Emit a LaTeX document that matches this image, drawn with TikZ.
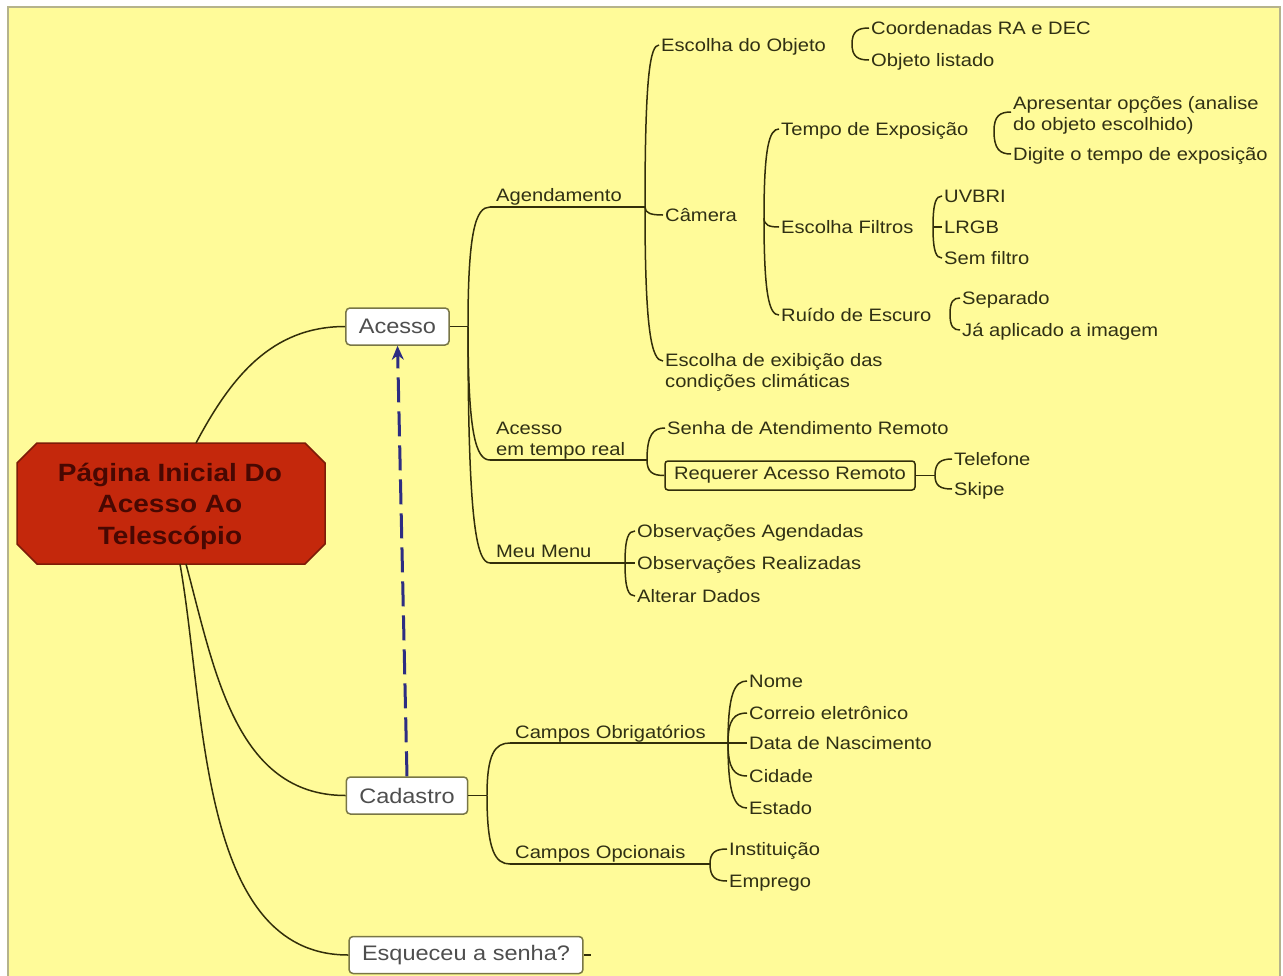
\documentclass[tikz,border=0pt]{standalone}
\usepackage{fontspec}
\setmainfont[FakeStretch=1.12]{Liberation Sans}
\usetikzlibrary{calc,arrows.meta}
\definecolor{bg}{HTML}{FFFB99}
\definecolor{frame}{HTML}{B5B38C}
\definecolor{lnc}{RGB}{50,46,10}
\definecolor{txt}{RGB}{48,48,20}
\definecolor{boxtxt}{RGB}{78,78,78}
\definecolor{boxbrd}{RGB}{120,118,70}
\definecolor{rootfill}{RGB}{196,40,12}
\definecolor{rootbrd}{RGB}{125,28,8}
\definecolor{roottxt}{RGB}{72,8,2}
\definecolor{navy}{RGB}{45,45,130}
\newcommand\mmfs{\fontsize{18pt}{21pt}\selectfont}
\newcommand\mmfsbox{\fontsize{21pt}{25pt}\selectfont}
\newcommand\mmfsroot{\fontsize{25pt}{31.5pt}\selectfont\bfseries}
\begin{document}
\begin{tikzpicture}[x=1pt,y=-1pt,
  ln/.style={draw=lnc, line width=1.5pt},
  br/.style={to path={.. controls ($(\tikztostart)!0.8!(\tikztostart|-\tikztotarget)$) and ($(\tikztotarget)!0.65!(\tikztostart|-\tikztotarget)$) .. (\tikztotarget) \tikztonodes}},
  leaf/.style={anchor=west, inner xsep=2pt, inner ysep=0pt, text height=13pt, text depth=0pt, font=\mmfs, text=txt},
  leafm/.style={anchor=north west, inner xsep=2pt, inner ysep=0pt, align=left, font=\mmfs, text=txt},
  ttl/.style={anchor=base west, inner sep=0pt, font=\mmfs, text=txt},
  mainbox/.style={draw=boxbrd, fill=white, line width=1.5pt, rounded corners=4pt, minimum height=37pt, inner xsep=13pt, inner ysep=0pt, font=\mmfsbox, text=boxtxt},
  rbox/.style={draw=lnc, line width=1.5pt, rounded corners=3pt, minimum width=250pt, minimum height=29pt, inner sep=0pt, font=\mmfs, text=txt},
  dasharrow/.style={draw=navy, line width=3pt, dash pattern=on 25pt off 9pt, -{Stealth[length=14pt,width=12pt]}}
]
\useasboundingbox (0,0) rectangle (1283,975);
\fill[white] (0,0) rectangle (1283,975);
\filldraw[fill=bg, draw=frame, line width=2pt] (8,7) rectangle (1280,995);

% root
\filldraw[fill=rootfill, draw=rootbrd, line width=1.5pt] (37,443) -- (305,443) -- (325,463) -- (325,544) -- (305,564) -- (37,564) -- (17,544) -- (17,463) -- cycle;
\node[align=center, font=\mmfsroot, text=roottxt, inner sep=0pt] (root) at (170,506) {Página Inicial Do\\Acesso Ao\\Telescópio};
\coordinate (rt) at (196,443);
\coordinate (rb1) at (186,564);
\coordinate (rb2) at (180,564);

% main boxes
\node[mainbox] (acesso) at (397.5,326.5) {Acesso};
\node[mainbox] (cadastro) at (407,795.5) {Cadastro};
\node[mainbox] (esq) at (466,955) {Esqueceu a senha?};
\coordinate (E1) at (591,955);

\draw[ln] (rt) to[out=62,in=180] (acesso.west);
\draw[ln] (rb1) to[out=-75,in=180] (cadastro.west);
\draw[ln] (rb2) to[out=-80,in=180,looseness=0.9] (esq.west);
\draw[ln] (esq.east) -- (E1);

% junctions
\coordinate (J1) at (468,326.5);
\coordinate (A1) at (490,207);
\coordinate (J2) at (645,207);
\coordinate (A2) at (490,460);
\coordinate (J8) at (647,460);
\coordinate (A3) at (490,563);
\coordinate (J10) at (625,563);
\coordinate (J3) at (852,44);
\coordinate (J4) at (764,218);
\coordinate (J5) at (994,131);
\coordinate (J6) at (933,227);
\coordinate (J7) at (950,314);
\coordinate (J9) at (935,475.5);
\coordinate (J11) at (487,795.5);
\coordinate (C1) at (510,743);
\coordinate (J12) at (728,743);
\coordinate (C2) at (510,864);
\coordinate (J13) at (710,864);

% titles with underline
\node[ttl] (agenda) at (496,201.5) {Agendamento};
\node[leafm, inner xsep=0pt] (tempreal) at (496,421.5) {Acesso\\em tempo real};
\node[ttl] (meumenu) at (496,557.5) {Meu Menu};
\node[ttl] (cobrig) at (515,738.5) {Campos Obrigatórios};
\node[ttl] (copc) at (515,858) {Campos Opcionais};

% leaves
\node[leaf] (escobj) at (659,45) {Escolha do Objeto};
\node[leaf] (camera) at (663,215) {Câmera};
\node[leafm] (clima) at (663,353.5) {Escolha de exibição das\\condições climáticas};
\coordinate (climah) at (663,361);
\node[leaf] (coord) at (869,28) {Coordenadas RA e DEC};
\node[leaf] (objlist) at (869,60) {Objeto listado};
\node[leaf] (tempo) at (779,129) {Tempo de Exposição};
\node[leaf] (filtros) at (779,227) {Escolha Filtros};
\node[leaf] (ruido) at (779,315) {Ruído de Escuro};
\node[leafm] (apres) at (1011,96.5) {Apresentar opções (analise\\do objeto escolhido)};
\coordinate (apresh) at (1011,112);
\node[leaf] (digite) at (1011,154) {Digite o tempo de exposição};
\node[leaf] (uvbri) at (942,196) {UVBRI};
\node[leaf] (lrgb) at (942,227) {LRGB};
\node[leaf] (semf) at (942,258) {Sem filtro};
\node[leaf] (separado) at (960,298) {Separado};
\node[leaf] (japl) at (960,330) {Já aplicado a imagem};
\node[leaf] (senha) at (665,428) {Senha de Atendimento Remoto};
\node[rbox] (req) at (790,475.5) {Requerer Acesso Remoto};
\node[leaf] (tel) at (952,459) {Telefone};
\node[leaf] (skipe) at (952,489) {Skipe};
\node[leaf] (obsag) at (635,531) {Observações Agendadas};
\node[leaf] (obsre) at (635,563) {Observações Realizadas};
\node[leaf] (alt) at (635,596) {Alterar Dados};
\node[leaf] (nome) at (747,681) {Nome};
\node[leaf] (correio) at (747,713) {Correio eletrônico};
\node[leaf] (data) at (747,743) {Data de Nascimento};
\node[leaf] (cidade) at (747,776) {Cidade};
\node[leaf] (estado) at (747,808) {Estado};
\node[leaf] (inst) at (727,849) {Instituição};
\node[leaf] (emprego) at (727,881) {Emprego};

% connectors
\draw[ln] (acesso.east) -- (J1);
\draw[ln] (J1) to[br] (A1);
\draw[ln] (A1) -- (J2);
\draw[ln] (J1) to[br] (A2);
\draw[ln] (A2) -- (J8);
\draw[ln] (J1) to[br] (A3);
\draw[ln] (A3) -- (J10);
\draw[ln] (J2) to[br] (escobj.west);
\draw[ln] (J2) to[br] (camera.west);
\draw[ln] (J2) to[br] (climah);
\draw[ln] (J3) to[br] (coord.west);
\draw[ln] (J3) to[br] (objlist.west);
\draw[ln] (J4) to[br] (tempo.west);
\draw[ln] (J4) to[br] (filtros.west);
\draw[ln] (J4) to[br] (ruido.west);
\draw[ln] (J5) to[br] (apresh);
\draw[ln] (J5) to[br] (digite.west);
\draw[ln] (J6) to[br] (uvbri.west);
\draw[ln] (J6) -- (lrgb.west);
\draw[ln] (J6) to[br] (semf.west);
\draw[ln] (J7) to[br] (separado.west);
\draw[ln] (J7) to[br] (japl.west);
\draw[ln] (J8) to[br] (senha.west);
\draw[ln] (J8) to[br] (req.west);
\draw[ln] (req.east) -- (J9);
\draw[ln] (J9) to[br] (tel.west);
\draw[ln] (J9) to[br] (skipe.west);
\draw[ln] (J10) to[br] (obsag.west);
\draw[ln] (J10) -- (obsre.west);
\draw[ln] (J10) to[br] (alt.west);
\draw[ln] (cadastro.east) -- (J11);
\draw[ln] (J11) to[br] (C1);
\draw[ln] (C1) -- (J12);
\draw[ln] (J11) to[br] (C2);
\draw[ln] (C2) -- (J13);
\draw[ln] (J12) to[br] (nome.west);
\draw[ln] (J12) to[br] (correio.west);
\draw[ln] (J12) -- (data.west);
\draw[ln] (J12) to[br] (cidade.west);
\draw[ln] (J12) to[br] (estado.west);
\draw[ln] (J13) to[br] (inst.west);
\draw[ln] (J13) to[br] (emprego.west);

% dashed arrow
\draw[dasharrow] (cadastro.north) -- (acesso.south);
\end{tikzpicture}
\end{document}
